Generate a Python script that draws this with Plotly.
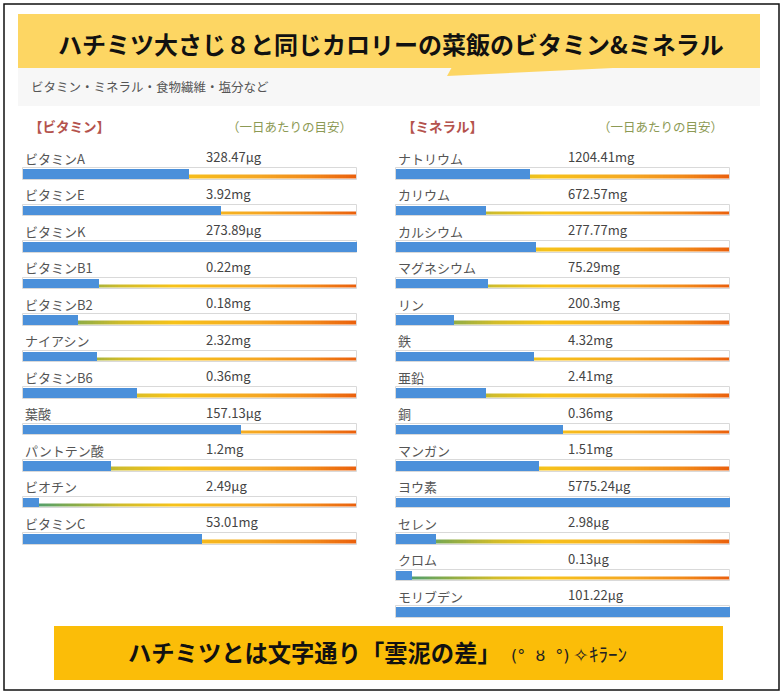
import plotly.graph_objects as go

# ---------------- data ----------------
vit_names = ["ビタミンA", "ビタミンE", "ビタミンK", "ビタミンB1", "ビタミンB2", "ナイアシン",
             "ビタミンB6", "葉酸", "パントテン酸", "ビオチン", "ビタミンC"]
vit_amounts = ["328.47μg", "3.92mg", "273.89μg", "0.22mg", "0.18mg", "2.32mg",
               "0.36mg", "157.13μg", "1.2mg", "2.49μg", "53.01mg"]
vit_ratio = [0.497, 0.593, 1.0, 0.228, 0.164, 0.222, 0.341, 0.654, 0.264, 0.049, 0.535]

min_names = ["ナトリウム", "カリウム", "カルシウム", "マグネシウム", "リン", "鉄", "亜鉛",
             "銅", "マンガン", "ヨウ素", "セレン", "クロム", "モリブデン"]
min_amounts = ["1204.41mg", "672.57mg", "277.77mg", "75.29mg", "200.3mg", "4.32mg", "2.41mg",
               "0.36mg", "1.51mg", "5775.24μg", "2.98μg", "0.13μg", "101.22μg"]
min_ratio = [0.400, 0.268, 0.419, 0.275, 0.174, 0.413, 0.268, 0.500, 0.429, 1.0, 0.120, 0.049, 1.0]

title_text = "ハチミツ大さじ８と同じカロリーの菜飯のビタミン&ミネラル"
subtitle_text = "ビタミン・ミネラル・食物繊維・塩分など"
vit_header = "【ビタミン】"
min_header = "【ミネラル】"
target_header = "（一日あたりの目安）"
footer_main = "ハチミツとは文字通り「雲泥の差」"
footer_face = "(°  ȣ  °)"
footer_tail = "✧ｷﾗｰﾝ"

# ---------------- styling ----------------
W, H = 783, 695
FONT = "Noto Sans CJK JP"
BLUE = "#4b90da"
ROW_PX = 36.5
Y0_PX = 174.0
y_top = -Y0_PX / ROW_PX
y_bot = y_top + H / ROW_PX

grad_scale = [
    [0.0, "#3c9a7c"],
    [0.15, "#86ab4a"],
    [0.30, "#d2bc2a"],
    [0.45, "#f6c21a"],
    [0.70, "#f5a823"],
    [0.86, "#f18a1a"],
    [1.0, "#ea5f0c"],
]

PAD = 0.006
def dom(px0, px1):
    w = (px1 - px0)
    return [(px0 - PAD * w) / W, (px1 + PAD * w) / W]

fig = go.Figure()

NSEG = 120
seg_x = [(k + 0.5) / NSEG for k in range(NSEG)]

def add_panel(names, amounts, ratio, xa, value_x):
    n = len(names)
    rows = list(range(n))
    # gradient stripe (below bars)
    fig.add_trace(go.Heatmap(
        x=seg_x, y=[r + 0.075 for r in rows],
        z=[seg_x for _ in rows], colorscale=grad_scale, zmin=0, zmax=1,
        showscale=False, ygap=ROW_PX - 3.5, xgap=0, hoverinfo="skip",
        xaxis=xa, yaxis="y"))
    # daily target track (=1.0)
    fig.add_trace(go.Bar(
        x=[1.0] * n, y=rows, orientation="h", width=0.31,
        marker=dict(color="rgba(0,0,0,0)", line=dict(color="#d9d9d9", width=1)),
        hoverinfo="skip", xaxis=xa, yaxis="y"))
    # actual amount
    fig.add_trace(go.Bar(
        x=ratio, y=rows, orientation="h", width=0.258,
        marker=dict(color=BLUE, line=dict(width=0)),
        hoverinfo="skip", xaxis=xa, yaxis="y"))
    for i, (nm, am) in enumerate(zip(names, amounts)):
        fig.add_annotation(x=0, y=i - 0.43, xref=xa, yref="y", text=nm,
                           showarrow=False, xanchor="left", yanchor="middle",
                           font=dict(family=FONT, size=13, color="#555555"))
        fig.add_annotation(x=value_x, y=i - 0.475, xref=xa, yref="y", text=am,
                           showarrow=False, xanchor="left", yanchor="middle",
                           font=dict(family=FONT, size=13, color="#444444"))

add_panel(vit_names, vit_amounts, vit_ratio, "x", 0.542)
add_panel(min_names, min_amounts, min_ratio, "x2", 0.509)

# ---------------- decoration ----------------
shapes = [
    dict(type="rect", xref="paper", yref="paper", x0=4 / W, x1=779 / W,
         y0=1 - 690 / H, y1=1 - 4 / H, line=dict(color="#111", width=1.5),
         fillcolor="rgba(0,0,0,0)", layer="below"),
    dict(type="rect", xref="paper", yref="paper", x0=18 / W, x1=760 / W,
         y0=1 - 106 / H, y1=1 - 66 / H, line=dict(width=0), fillcolor="#f7f7f7",
         layer="below"),
    dict(type="rect", xref="paper", yref="paper", x0=18 / W, x1=760 / W,
         y0=1 - 68 / H, y1=1 - 14 / H, line=dict(width=0), fillcolor="#fdd663",
         layer="below"),
    dict(type="path", xref="paper", yref="paper",
         path=f"M {452/W} {1-67/H} L {447/W} {1-76/H} L {634/W} {1-67/H} Z",
         line=dict(width=0), fillcolor="#fdd663", layer="below"),
    dict(type="rect", xref="paper", yref="paper", x0=54 / W, x1=723 / W,
         y0=1 - 680 / H, y1=1 - 626 / H, line=dict(width=0), fillcolor="#fbbd08",
         layer="above"),
]

def pann(x, y, text, size, color, anchor="left", bold=False, family=FONT):
    fig.add_annotation(x=x / W, y=1 - y / H, xref="paper", yref="paper",
                       text=f"<b>{text}</b>" if bold else text, showarrow=False,
                       xanchor=anchor, yanchor="middle",
                       font=dict(family=family, size=size, color=color))

pann(391, 43, title_text, 24, "#111111", anchor="center", bold=True)
pann(29, 86, subtitle_text, 12.5, "#555555")
pann(27, 126, vit_header, 13.5, "#b4524c", bold=True)
pann(225, 126, target_header, 12.5, "#8d9a55")
pann(400, 126, min_header, 13.5, "#b4524c", bold=True)
pann(596, 126, target_header, 12.5, "#8d9a55")
pann(126, 652, footer_main, 23.3, "#111111", bold=True)
pann(509, 655, footer_face, 16, "#222222", family="DejaVu Sans, Noto Sans CJK JP")
pann(571, 653, footer_tail, 19, "#222222", family="Noto Sans CJK JP")

fig.update_layout(
    width=W, height=H, autosize=False,
    margin=dict(l=0, r=0, t=0, b=0),
    paper_bgcolor="white", plot_bgcolor="rgba(0,0,0,0)",
    barmode="overlay", bargap=0, showlegend=False,
    shapes=shapes,
    xaxis=dict(domain=dom(23, 357), range=[-PAD, 1 + PAD], visible=False, fixedrange=True),
    xaxis2=dict(domain=dom(396, 730), range=[-PAD, 1 + PAD], visible=False,
                fixedrange=True, anchor="y"),
    yaxis=dict(domain=[0, 1], range=[y_bot, y_top], visible=False, fixedrange=True),
)

fig.write_html("out.html")
